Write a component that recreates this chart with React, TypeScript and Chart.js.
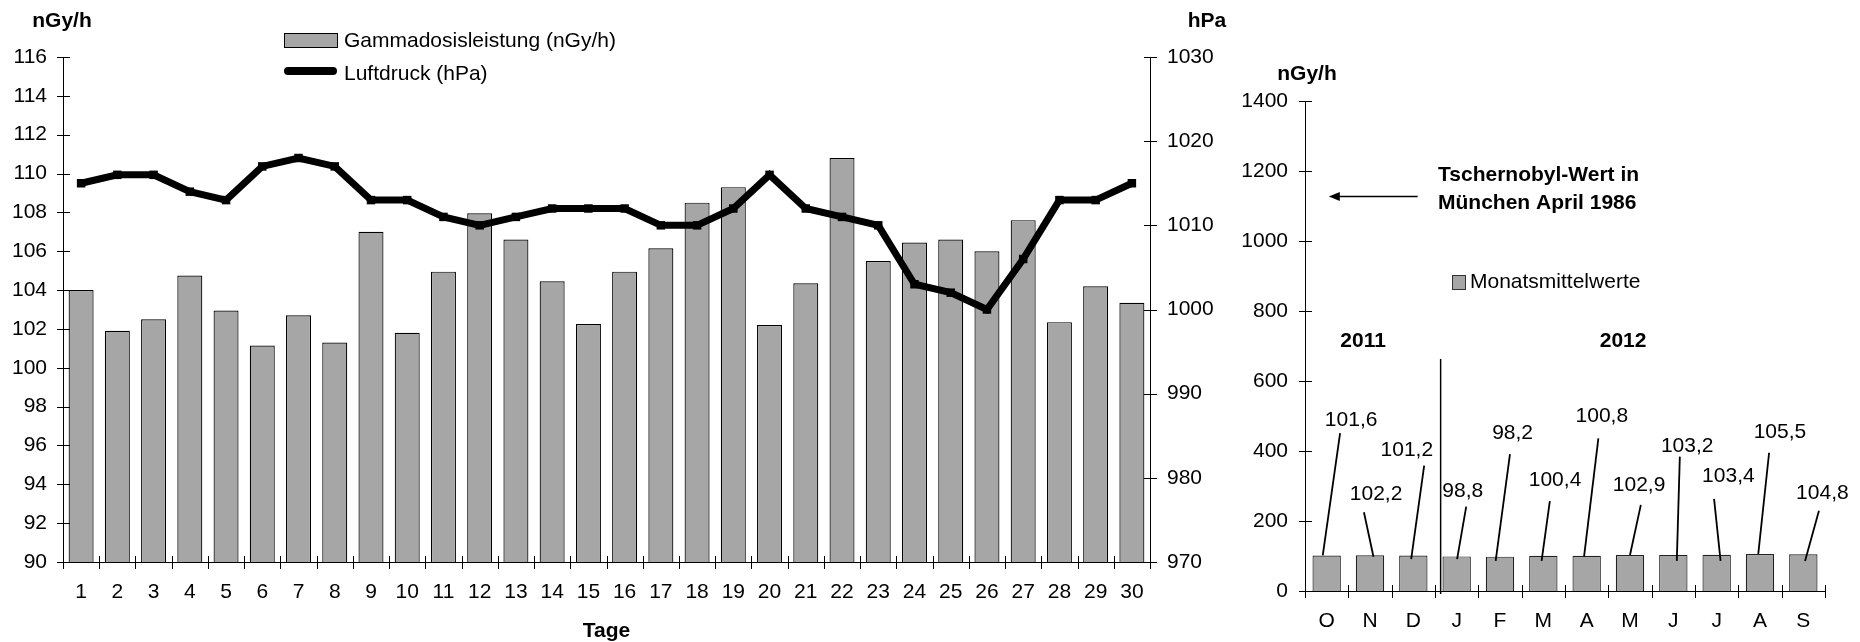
import React, { useEffect, useRef } from "react";
import { Chart, registerables } from "chart.js";

Chart.register(...registerables);

// ---------- data ----------
const days = [
  "1", "2", "3", "4", "5", "6", "7", "8", "9", "10",
  "11", "12", "13", "14", "15", "16", "17", "18", "19", "20",
  "21", "22", "23", "24", "25", "26", "27", "28", "29", "30",
];
const gammaDaily = [
  104.0, 101.9, 102.5, 104.75, 102.95, 101.15, 102.7, 101.3, 107.0, 101.8,
  104.95, 107.95, 106.6, 104.45, 102.25, 104.95, 106.15, 108.5, 109.3, 102.2,
  104.35, 110.8, 105.5, 106.45, 106.6, 106.0, 107.6, 102.35, 104.2, 103.35,
];
const pressureDaily = [
  1015, 1016, 1016, 1014, 1013, 1017, 1018, 1017, 1013, 1013,
  1011, 1010, 1011, 1012, 1012, 1012, 1010, 1010, 1012, 1016,
  1012, 1011, 1010, 1003, 1002, 1000, 1006, 1013, 1013, 1015,
];
const gammaTicks = { min: 90, max: 116, step: 2 };
const pressureTicks = { min: 970, max: 1030, step: 10 };

const months = ["O", "N", "D", "J", "F", "M", "A", "M", "J", "J", "A", "S"];
const monthlyMeans = [101.6, 102.2, 101.2, 98.8, 98.2, 100.4, 100.8, 102.9, 103.2, 103.4, 105.5, 104.8];
const monthlyTicks = { min: 0, max: 1400, step: 200 };
const years = [
  { text: "2011", at: 0.84 },
  { text: "2012", at: 6.84 },
];
const chernobylValue = 1127;

// label placement for monthly values (dx in category widths, v in nGy/h)
const leaderLabels = [
  { lx: 0.565, lv: 489, tx: 0.31, tv: 451, bx: -0.09, bv: 102 },
  { lx: 0.14, lv: 277, tx: -0.14, tv: 225, bx: 0.08, bv: 98 },
  { lx: -0.15, lv: 403, tx: 0.25, tv: 358, bx: -0.05, bv: 91 },
  { lx: 0.14, lv: 284, tx: 0.22, tv: 241, bx: 0.01, bv: 91 },
  { lx: 0.29, lv: 451, tx: 0.23, tv: 391, bx: -0.1, bv: 86 },
  { lx: 0.27, lv: 317, tx: 0.15, tv: 257, bx: -0.04, bv: 86 },
  { lx: 0.35, lv: 498, tx: 0.27, tv: 436, bx: -0.06, bv: 98 },
  { lx: 0.21, lv: 303, tx: 0.25, tv: 246, bx: 0.0, bv: 103 },
  { lx: 0.32, lv: 415, tx: 0.15, tv: 384, bx: 0.08, bv: 86 },
  { lx: 0.27, lv: 327, tx: -0.06, tv: 263, bx: 0.09, bv: 86 },
  { lx: 0.46, lv: 455, tx: 0.21, tv: 395, bx: -0.04, bv: 106 },
  { lx: 0.44, lv: 279, tx: 0.36, tv: 229, bx: 0.04, bv: 86 },
];

// ---------- styles ----------
const FONT = "'Liberation Sans', Arial, Helvetica, sans-serif";
const BAR_FILL = "#a6a6a6";
const fmt = (v: number) => v.toFixed(1).replace(".", ",");
const plain = (v: any) => String(v);

const crispLine = (ctx: CanvasRenderingContext2D, x1: number, y1: number, x2: number, y2: number) => {
  ctx.beginPath();
  ctx.moveTo(x1, y1);
  ctx.lineTo(x2, y2);
  ctx.stroke();
};

const crossTicks = {
  id: "crossTicks",
  afterDraw(chart: any) {
    const ctx: CanvasRenderingContext2D = chart.ctx;
    ctx.save();
    ctx.strokeStyle = "#000";
    ctx.lineWidth = 1;
    Object.values(chart.scales).forEach((s: any) => {
      if (s.axis === "y") {
        const x = Math.round(s.position === "left" ? s.right : s.left) + 0.5;
        s.ticks.forEach((_t: any, i: number) => {
          const y = Math.round(s.getPixelForTick(i)) + 0.5;
          crispLine(ctx, x - 6.5, y, x + 6.5, y);
        });
      } else {
        const n = s.ticks.length;
        const y = Math.round(s.top) + 0.5;
        for (let i = 0; i <= n; i++) {
          const x = Math.round(s.left + (i * s.width) / n) + 0.5;
          crispLine(ctx, x, y - 6.5, x, y + 6.5);
        }
      }
    });
    ctx.restore();
  },
};

const leftDecor = {
  id: "leftDecor",
  afterDraw(chart: any) {
    const ctx: CanvasRenderingContext2D = chart.ctx;
    const { y, y1 } = chart.scales;
    const area = chart.chartArea;
    ctx.save();
    ctx.fillStyle = "#000";
    ctx.font = `bold 21px ${FONT}`;
    ctx.textAlign = "center";
    ctx.textBaseline = "alphabetic";
    ctx.fillText("nGy/h", y.right - 1, 27);
    ctx.fillText("hPa", y1.left + 57, 27);
    ctx.fillText("Tage", (area.left + area.right) / 2, 637);

    // legend
    const lx = 284;
    ctx.fillStyle = BAR_FILL;
    ctx.fillRect(lx, 33, 53, 14);
    ctx.strokeStyle = "#000";
    ctx.lineWidth = 1;
    ctx.strokeRect(lx + 0.5, 33.5, 53, 14);
    ctx.lineWidth = 8;
    ctx.lineCap = "round";
    crispLine(ctx, lx + 4, 71, lx + 49, 71);
    ctx.fillStyle = "#000";
    ctx.font = `21px ${FONT}`;
    ctx.textAlign = "left";
    ctx.textBaseline = "middle";
    ctx.fillText("Gammadosisleistung (nGy/h)", lx + 60, 41);
    ctx.fillText("Luftdruck (hPa)", lx + 60, 74);
    ctx.restore();
  },
};

const rightDecor = {
  id: "rightDecor",
  afterDraw(chart: any) {
    const ctx: CanvasRenderingContext2D = chart.ctx;
    const { x, y } = chart.scales;
    const cw = x.width / months.length;
    ctx.save();
    ctx.fillStyle = "#000";
    ctx.strokeStyle = "#000";

    // unit
    ctx.font = `bold 21px ${FONT}`;
    ctx.textAlign = "center";
    ctx.textBaseline = "alphabetic";
    ctx.fillText("nGy/h", y.right + 2, 80);

    // years
    const yearBase = y.getPixelForValue(697);
    years.forEach((yr) => ctx.fillText(yr.text, x.getPixelForValue(0) + yr.at * cw, yearBase));

    // separator between years
    ctx.lineWidth = 1.5;
    const sepX = x.getPixelForValue(0) + 2.63 * cw;
    crispLine(ctx, sepX, y.getPixelForValue(663), sepX, y.bottom + 3);

    // Chernobyl arrow
    const ay = y.getPixelForValue(chernobylValue);
    const tipX = x.getPixelForValue(0) + 0.05 * cw;
    const tailX = x.getPixelForValue(0) + 2.1 * cw;
    ctx.lineWidth = 1.5;
    crispLine(ctx, tipX + 6, ay, tailX, ay);
    ctx.beginPath();
    ctx.moveTo(tipX, ay);
    ctx.lineTo(tipX + 11, ay - 4.5);
    ctx.lineTo(tipX + 11, ay + 4.5);
    ctx.closePath();
    ctx.fill();
    ctx.textAlign = "left";
    const textX = x.getPixelForValue(0) + 2.57 * cw;
    ctx.fillText("Tschernobyl-Wert in", textX, ay - 16);
    ctx.fillText("München April 1986", textX, ay + 12);

    // legend
    ctx.fillStyle = BAR_FILL;
    ctx.fillRect(1452 - 1240, 275, 13, 14);
    ctx.lineWidth = 1;
    ctx.strokeStyle = "#333";
    ctx.strokeRect(1452 - 1240 + 0.5, 275.5, 13, 14);
    ctx.fillStyle = "#000";
    ctx.font = `21px ${FONT}`;
    ctx.textBaseline = "middle";
    ctx.fillText("Monatsmittelwerte", 1470 - 1240, 282);

    // value labels with leader lines
    ctx.textAlign = "center";
    ctx.strokeStyle = "#000";
    ctx.lineWidth = 1.8;
    monthlyMeans.forEach((v, i) => {
      const p = leaderLabels[i];
      const cx = x.getPixelForValue(i);
      ctx.fillText(fmt(v), cx + p.lx * cw, y.getPixelForValue(p.lv));
      crispLine(ctx, cx + p.tx * cw, y.getPixelForValue(p.tv), cx + p.bx * cw, y.getPixelForValue(p.bv));
    });
    ctx.restore();
  },
};

const tickFont = { family: FONT, size: 21 };

export default function App() {
  const leftRef = useRef<HTMLCanvasElement>(null);
  const rightRef = useRef<HTMLCanvasElement>(null);

  useEffect(() => {
    Chart.defaults.font.family = FONT;
    Chart.defaults.color = "#000";

    const left = new Chart(leftRef.current as HTMLCanvasElement, {
      type: "bar",
      data: {
        labels: days,
        datasets: [
          {
            type: "line",
            label: "Luftdruck (hPa)",
            data: pressureDaily,
            yAxisID: "y1",
            borderColor: "#000",
            backgroundColor: "#000",
            borderWidth: 7,
            pointStyle: "rect",
            pointRadius: 6,
            pointBorderWidth: 0,
            tension: 0,
            order: 0,
          } as any,
          {
            type: "bar",
            label: "Gammadosisleistung (nGy/h)",
            data: gammaDaily,
            yAxisID: "y",
            backgroundColor: BAR_FILL,
            borderColor: "#000",
            borderWidth: 1.2,
            categoryPercentage: 1,
            barPercentage: 0.69,
            order: 1,
          },
        ],
      },
      options: {
        animation: false,
        responsive: false,
        maintainAspectRatio: false,
        layout: { padding: { top: 57, left: 0, right: 0, bottom: 0 } },
        plugins: { legend: { display: false }, tooltip: { enabled: false }, title: { display: false } },
        scales: {
          x: {
            offset: true,
            grid: { display: false, drawTicks: false, tickLength: 0 },
            border: { display: true, color: "#000", width: 1 },
            ticks: { padding: 18, font: tickFont, color: "#000", maxRotation: 0, autoSkip: false },
            afterFit: (s: any) => { s.height = 80; },
          },
          y: {
            position: "left",
            min: gammaTicks.min,
            max: gammaTicks.max,
            grid: { display: false, drawTicks: false, tickLength: 0 },
            border: { display: true, color: "#000", width: 1 },
            ticks: { stepSize: gammaTicks.step, padding: 16, font: tickFont, color: "#000", callback: plain },
            afterFit: (s: any) => { s.width = 63; },
          },
          y1: {
            position: "right",
            min: pressureTicks.min,
            max: pressureTicks.max,
            grid: { display: false, drawTicks: false, tickLength: 0 },
            border: { display: true, color: "#000", width: 1 },
            ticks: { stepSize: pressureTicks.step, padding: 17, font: tickFont, color: "#000", callback: plain },
            afterFit: (s: any) => { s.width = 90; },
          },
        },
      },
      plugins: [crossTicks, leftDecor],
    });

    const right = new Chart(rightRef.current as HTMLCanvasElement, {
      type: "bar",
      data: {
        labels: months,
        datasets: [
          {
            label: "Monatsmittelwerte",
            data: monthlyMeans,
            backgroundColor: BAR_FILL,
            borderColor: "#222",
            borderWidth: 1.2,
            categoryPercentage: 1,
            barPercentage: 0.655,
          },
        ],
      },
      options: {
        animation: false,
        responsive: false,
        maintainAspectRatio: false,
        layout: { padding: { top: 101, left: 0, right: 35, bottom: 0 } },
        plugins: { legend: { display: false }, tooltip: { enabled: false }, title: { display: false } },
        scales: {
          x: {
            offset: true,
            grid: { display: false, drawTicks: false, tickLength: 0 },
            border: { display: true, color: "#000", width: 1 },
            ticks: { padding: 18, font: tickFont, color: "#000", maxRotation: 0, autoSkip: false },
            afterFit: (s: any) => { s.height = 51; },
          },
          y: {
            position: "left",
            min: monthlyTicks.min,
            max: monthlyTicks.max,
            grid: { display: false, drawTicks: false, tickLength: 0 },
            border: { display: true, color: "#000", width: 1 },
            ticks: { stepSize: monthlyTicks.step, padding: 17, font: tickFont, color: "#000", callback: plain },
            afterFit: (s: any) => { s.width = 65; },
          },
        },
      },
      plugins: [crossTicks, rightDecor],
    });

    return () => {
      left.destroy();
      right.destroy();
    };
  }, []);

  return (
    <div style={{ position: "absolute", left: 0, top: 0, width: 1860, height: 642, background: "#fff" }}>
      <canvas
        ref={leftRef}
        width={1240}
        height={642}
        style={{ position: "absolute", left: 0, top: 0, width: 1240, height: 642 }}
      />
      <canvas
        ref={rightRef}
        width={620}
        height={642}
        style={{ position: "absolute", left: 1240, top: 0, width: 620, height: 642 }}
      />
    </div>
  );
}
